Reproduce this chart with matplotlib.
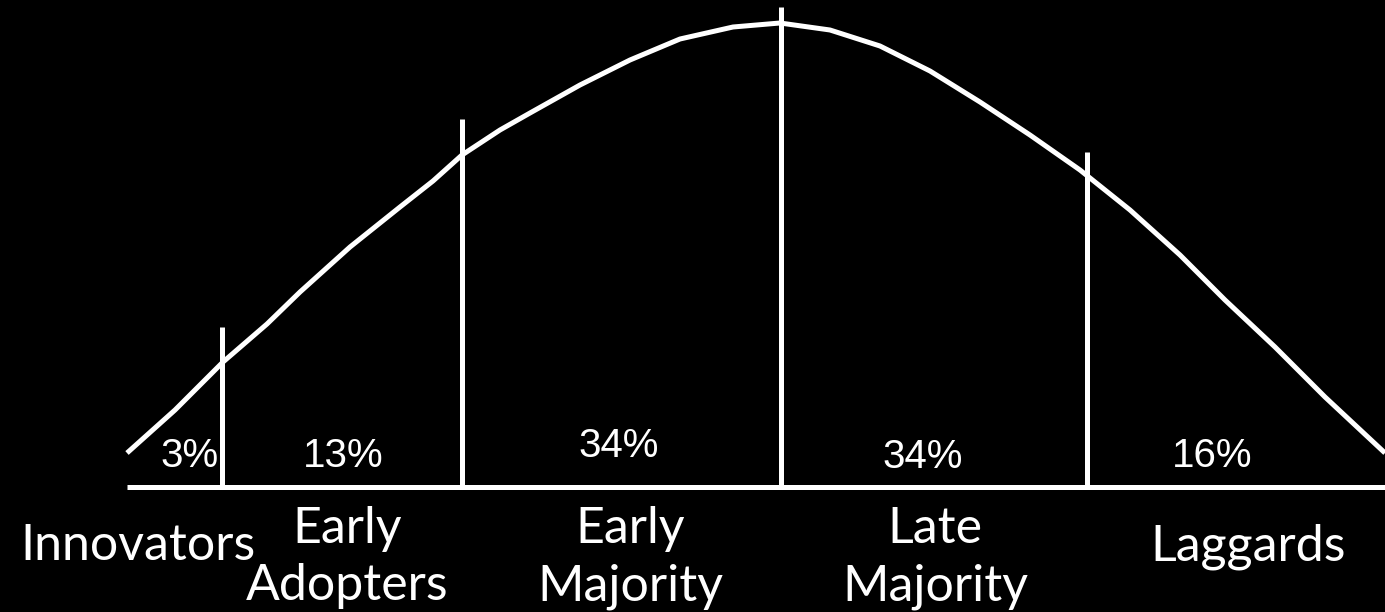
import matplotlib
matplotlib.use("Agg")
import matplotlib.pyplot as plt

# curve (pixel coords, y down)
curve_x = [127, 175, 223, 267, 300, 350, 400, 433, 462, 500, 530, 580, 630, 680,
           733, 780, 830, 880, 930, 980, 1030, 1080, 1130, 1180, 1225, 1275, 1325, 1385]
curve_y = [453, 410, 362, 324, 292, 247, 207, 181, 155, 130, 113, 85, 60, 39,
           27, 23, 30, 46, 71, 102, 135, 170, 210, 255, 300, 347, 397, 453]

base_y = 487
base_x0, base_x1 = 127, 1385
divider_x = [222, 462, 781, 1087]
divider_top = [327, 119, 7, 152]

pct_labels = ["3%", "13%", "34%", "34%", "16%"]
pct_x = [190, 343, 619, 923, 1212]
pct_y = [467, 467, 457, 468, 467]

groups = [["Innovators"], ["Early", "Adopters"], ["Early", "Majority"],
          ["Late", "Majority"], ["Laggards"]]
group_x = [138, 347, 630, 935, 1248]
group_y = [[560], [543, 600], [543, 600], [543, 600], [560]]

fig = plt.figure(figsize=(13.85, 6.12), dpi=100, facecolor="black")
ax = fig.add_axes([0, 0, 1, 1])
ax.set_facecolor("black")
ax.set_xlim(0, 1385)
ax.set_ylim(612, 0)
ax.axis("off")

lw = 3.6
ax.plot(curve_x, curve_y, color="white", lw=lw, solid_joinstyle="round",
        solid_capstyle="butt")
ax.plot([base_x0, base_x1], [base_y, base_y], color="white", lw=lw,
        solid_capstyle="butt")
for x, top in zip(divider_x, divider_top):
    ax.plot([x, x], [top, base_y], color="white", lw=lw, solid_capstyle="butt")

for s, x, y in zip(pct_labels, pct_x, pct_y):
    ax.text(x, y, s, color="white", fontsize=29, family="Liberation Sans",
            ha="center", va="baseline")

for lines, x, ys in zip(groups, group_x, group_y):
    for s, y in zip(lines, ys):
        ax.text(x, y, s, color="white", fontsize=36, family="Lato",
                fontweight="normal", ha="center", va="baseline")

fig.savefig("out.png", dpi=100, facecolor="black")
